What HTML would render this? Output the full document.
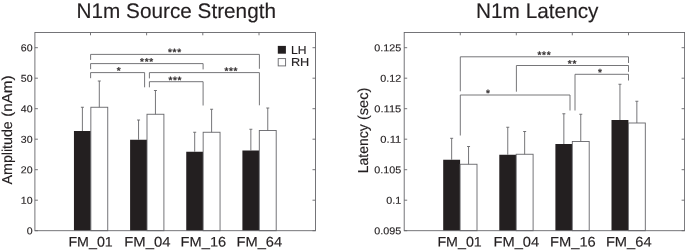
<!DOCTYPE html>
<html lang="en"><head><meta charset="utf-8"><title>N1m Source Strength and Latency</title>
<style>html,body{margin:0;padding:0;background:#fff;overflow:hidden}svg{display:block}text{font-family:"Liberation Sans",sans-serif;fill:#231f20;text-rendering:geometricPrecision;stroke:#231f20;stroke-width:0.15px}</style>
</head><body>
<svg width="685" height="252" viewBox="0 0 685 252">
<rect x="0" y="0" width="685" height="252" fill="#fff"/>
<rect x="73.95" y="131" width="16.9" height="99.7" fill="#231f20"/>
<rect x="90.85" y="107.25" width="16.9" height="123.45" fill="#fff" stroke="#66666a" stroke-width="0.9"/>
<line x1="82.4" y1="107.25" x2="82.4" y2="131" stroke="#66666a" stroke-width="0.9"/>
<line x1="80.9" y1="107.25" x2="83.9" y2="107.25" stroke="#66666a" stroke-width="0.9"/>
<line x1="99.3" y1="81" x2="99.3" y2="107.25" stroke="#66666a" stroke-width="0.9"/>
<line x1="97.8" y1="81" x2="100.8" y2="81" stroke="#66666a" stroke-width="0.9"/>
<rect x="130.1" y="139.75" width="16.9" height="90.95" fill="#231f20"/>
<rect x="147" y="114.25" width="16.9" height="116.45" fill="#fff" stroke="#66666a" stroke-width="0.9"/>
<line x1="138.55" y1="120" x2="138.55" y2="139.75" stroke="#66666a" stroke-width="0.9"/>
<line x1="137.05" y1="120" x2="140.05" y2="120" stroke="#66666a" stroke-width="0.9"/>
<line x1="155.45" y1="90.5" x2="155.45" y2="114.25" stroke="#66666a" stroke-width="0.9"/>
<line x1="153.95" y1="90.5" x2="156.95" y2="90.5" stroke="#66666a" stroke-width="0.9"/>
<rect x="186.25" y="151.75" width="16.9" height="78.95" fill="#231f20"/>
<rect x="203.15" y="132.25" width="16.9" height="98.45" fill="#fff" stroke="#66666a" stroke-width="0.9"/>
<line x1="194.7" y1="132.25" x2="194.7" y2="151.75" stroke="#66666a" stroke-width="0.9"/>
<line x1="193.2" y1="132.25" x2="196.2" y2="132.25" stroke="#66666a" stroke-width="0.9"/>
<line x1="211.6" y1="109.25" x2="211.6" y2="132.25" stroke="#66666a" stroke-width="0.9"/>
<line x1="210.1" y1="109.25" x2="213.1" y2="109.25" stroke="#66666a" stroke-width="0.9"/>
<rect x="242.4" y="150.5" width="16.9" height="80.2" fill="#231f20"/>
<rect x="259.3" y="130.5" width="16.9" height="100.2" fill="#fff" stroke="#66666a" stroke-width="0.9"/>
<line x1="250.85" y1="129.25" x2="250.85" y2="150.5" stroke="#66666a" stroke-width="0.9"/>
<line x1="249.35" y1="129.25" x2="252.35" y2="129.25" stroke="#66666a" stroke-width="0.9"/>
<line x1="267.75" y1="108" x2="267.75" y2="130.5" stroke="#66666a" stroke-width="0.9"/>
<line x1="266.25" y1="108" x2="269.25" y2="108" stroke="#66666a" stroke-width="0.9"/>
<rect x="34.9" y="32.5" width="280.6" height="198.2" fill="none" stroke="#66666a" stroke-width="0.9"/>
<line x1="34.9" y1="230.7" x2="37.9" y2="230.7" stroke="#66666a" stroke-width="0.9"/>
<line x1="312.5" y1="230.7" x2="315.5" y2="230.7" stroke="#66666a" stroke-width="0.9"/>
<line x1="34.9" y1="200.2" x2="37.9" y2="200.2" stroke="#66666a" stroke-width="0.9"/>
<line x1="312.5" y1="200.2" x2="315.5" y2="200.2" stroke="#66666a" stroke-width="0.9"/>
<line x1="34.9" y1="169.7" x2="37.9" y2="169.7" stroke="#66666a" stroke-width="0.9"/>
<line x1="312.5" y1="169.7" x2="315.5" y2="169.7" stroke="#66666a" stroke-width="0.9"/>
<line x1="34.9" y1="139.2" x2="37.9" y2="139.2" stroke="#66666a" stroke-width="0.9"/>
<line x1="312.5" y1="139.2" x2="315.5" y2="139.2" stroke="#66666a" stroke-width="0.9"/>
<line x1="34.9" y1="108.7" x2="37.9" y2="108.7" stroke="#66666a" stroke-width="0.9"/>
<line x1="312.5" y1="108.7" x2="315.5" y2="108.7" stroke="#66666a" stroke-width="0.9"/>
<line x1="34.9" y1="78.2" x2="37.9" y2="78.2" stroke="#66666a" stroke-width="0.9"/>
<line x1="312.5" y1="78.2" x2="315.5" y2="78.2" stroke="#66666a" stroke-width="0.9"/>
<line x1="34.9" y1="47.7" x2="37.9" y2="47.7" stroke="#66666a" stroke-width="0.9"/>
<line x1="312.5" y1="47.7" x2="315.5" y2="47.7" stroke="#66666a" stroke-width="0.9"/>
<line x1="90.5" y1="32.5" x2="90.5" y2="35.3" stroke="#66666a" stroke-width="0.9"/>
<line x1="146.6" y1="32.5" x2="146.6" y2="35.3" stroke="#66666a" stroke-width="0.9"/>
<line x1="202.8" y1="32.5" x2="202.8" y2="35.3" stroke="#66666a" stroke-width="0.9"/>
<line x1="259" y1="32.5" x2="259" y2="35.3" stroke="#66666a" stroke-width="0.9"/>
<text font-size="10" text-anchor="end" textLength="5.89" lengthAdjust="spacingAndGlyphs" transform="matrix(1 0.0005 0 1 32.6 234.2)" stroke="none">0</text>
<text font-size="10" text-anchor="end" textLength="11.79" lengthAdjust="spacingAndGlyphs" transform="matrix(1 0.0005 0 1 32.6 203.7)" stroke="none">10</text>
<text font-size="10" text-anchor="end" textLength="11.79" lengthAdjust="spacingAndGlyphs" transform="matrix(1 0.0005 0 1 32.6 173.2)" stroke="none">20</text>
<text font-size="10" text-anchor="end" textLength="11.79" lengthAdjust="spacingAndGlyphs" transform="matrix(1 0.0005 0 1 32.6 142.7)" stroke="none">30</text>
<text font-size="10" text-anchor="end" textLength="11.79" lengthAdjust="spacingAndGlyphs" transform="matrix(1 0.0005 0 1 32.6 112.2)" stroke="none">40</text>
<text font-size="10" text-anchor="end" textLength="11.79" lengthAdjust="spacingAndGlyphs" transform="matrix(1 0.0005 0 1 32.6 81.7)" stroke="none">50</text>
<text font-size="10" text-anchor="end" textLength="11.79" lengthAdjust="spacingAndGlyphs" transform="matrix(1 0.0005 0 1 32.6 51.2)" stroke="none">60</text>
<text font-size="13.8" textLength="44.4" lengthAdjust="spacingAndGlyphs" transform="matrix(1 0.0005 0 1 68.4 246.5)" stroke-width="0.08">FM_01</text>
<text font-size="13.8" textLength="46.2" lengthAdjust="spacingAndGlyphs" transform="matrix(1 0.0005 0 1 124.3 246.5)" stroke-width="0.08">FM_04</text>
<text font-size="13.8" textLength="45.6" lengthAdjust="spacingAndGlyphs" transform="matrix(1 0.0005 0 1 180.6 246.5)" stroke-width="0.08">FM_16</text>
<text font-size="13.8" textLength="45.7" lengthAdjust="spacingAndGlyphs" transform="matrix(1 0.0005 0 1 236.5 246.5)" stroke-width="0.08">FM_64</text>
<polyline points="90.6,59.9 90.6,54.4 259.4,54.4 259.4,68.8" fill="none" stroke="#66666a" stroke-width="0.9"/>
<polyline points="90.6,69.2 90.6,63.6 203.1,63.6 203.1,69.4" fill="none" stroke="#66666a" stroke-width="0.9"/>
<polyline points="90.6,78.2 90.6,72.6 144.6,72.6 144.6,87.3" fill="none" stroke="#66666a" stroke-width="0.9"/>
<polyline points="149.4,78.4 149.4,72.6 259.4,72.6 259.4,105.3" fill="none" stroke="#66666a" stroke-width="0.9"/>
<polyline points="149.4,87.3 149.4,81.7 203.1,81.7 203.1,105.5" fill="none" stroke="#66666a" stroke-width="0.9"/>
<text font-size="10" text-anchor="middle" transform="matrix(1 0.0005 0 1 174.9 55.6)" font-weight="bold" stroke="none" letter-spacing="0.7" fill-opacity="0.9">***</text>
<text font-size="10" text-anchor="middle" transform="matrix(1 0.0005 0 1 147 65.1)" font-weight="bold" stroke="none" letter-spacing="0.7" fill-opacity="0.9">***</text>
<text font-size="10" text-anchor="middle" transform="matrix(1 0.0005 0 1 119.1 74)" font-weight="bold" stroke="none" letter-spacing="0.7" fill-opacity="0.9">*</text>
<text font-size="10" text-anchor="middle" transform="matrix(1 0.0005 0 1 231.3 74.2)" font-weight="bold" stroke="none" letter-spacing="0.7" fill-opacity="0.9">***</text>
<text font-size="10" text-anchor="middle" transform="matrix(1 0.0005 0 1 175.3 83.4)" font-weight="bold" stroke="none" letter-spacing="0.7" fill-opacity="0.9">***</text>
<text font-size="14.4" textLength="63.1" lengthAdjust="spacingAndGlyphs" transform="matrix(0.0005 -1 1 0 12 184.4)">Amplitude</text>
<text font-size="14.4" textLength="41.4" lengthAdjust="spacingAndGlyphs" transform="matrix(0.0005 -1 1 0 12 116.8)">(nAm)</text>
<text font-size="21" textLength="199.5" lengthAdjust="spacingAndGlyphs" transform="matrix(1 0.0005 0 1 76.5 18)" stroke-width="0.22">N1m Source Strength</text>
<rect x="277.8" y="45.9" width="8.1" height="7.8" fill="#231f20"/>
<rect x="278.2" y="58.6" width="7.4" height="7.3" fill="#fff" stroke="#66666a" stroke-width="0.9"/>
<text font-size="11.6" textLength="15.5" lengthAdjust="spacingAndGlyphs" transform="matrix(1 0.0005 0 1 291 53.9)" stroke-width="0.1">LH</text>
<text font-size="11.6" textLength="18.4" lengthAdjust="spacingAndGlyphs" transform="matrix(1 0.0005 0 1 290.9 66)" stroke-width="0.1">RH</text>
<rect x="443.2" y="159.75" width="16.9" height="70.95" fill="#231f20"/>
<rect x="460.1" y="164.25" width="16.9" height="66.45" fill="#fff" stroke="#66666a" stroke-width="0.9"/>
<line x1="451.65" y1="138.3" x2="451.65" y2="159.75" stroke="#66666a" stroke-width="0.9"/>
<line x1="450.15" y1="138.3" x2="453.15" y2="138.3" stroke="#66666a" stroke-width="0.9"/>
<line x1="468.55" y1="146.5" x2="468.55" y2="164.25" stroke="#66666a" stroke-width="0.9"/>
<line x1="467.05" y1="146.5" x2="470.05" y2="146.5" stroke="#66666a" stroke-width="0.9"/>
<rect x="499.3" y="154.75" width="16.9" height="75.95" fill="#231f20"/>
<rect x="516.2" y="154.25" width="16.9" height="76.45" fill="#fff" stroke="#66666a" stroke-width="0.9"/>
<line x1="507.75" y1="127.25" x2="507.75" y2="154.75" stroke="#66666a" stroke-width="0.9"/>
<line x1="506.25" y1="127.25" x2="509.25" y2="127.25" stroke="#66666a" stroke-width="0.9"/>
<line x1="524.65" y1="131.5" x2="524.65" y2="154.25" stroke="#66666a" stroke-width="0.9"/>
<line x1="523.15" y1="131.5" x2="526.15" y2="131.5" stroke="#66666a" stroke-width="0.9"/>
<rect x="555.4" y="144" width="16.9" height="86.7" fill="#231f20"/>
<rect x="572.3" y="141.5" width="16.9" height="89.2" fill="#fff" stroke="#66666a" stroke-width="0.9"/>
<line x1="563.85" y1="113.75" x2="563.85" y2="144" stroke="#66666a" stroke-width="0.9"/>
<line x1="562.35" y1="113.75" x2="565.35" y2="113.75" stroke="#66666a" stroke-width="0.9"/>
<line x1="580.75" y1="114.25" x2="580.75" y2="141.5" stroke="#66666a" stroke-width="0.9"/>
<line x1="579.25" y1="114.25" x2="582.25" y2="114.25" stroke="#66666a" stroke-width="0.9"/>
<rect x="611.5" y="120" width="16.9" height="110.7" fill="#231f20"/>
<rect x="628.4" y="123" width="16.9" height="107.7" fill="#fff" stroke="#66666a" stroke-width="0.9"/>
<line x1="619.95" y1="84.25" x2="619.95" y2="120" stroke="#66666a" stroke-width="0.9"/>
<line x1="618.45" y1="84.25" x2="621.45" y2="84.25" stroke="#66666a" stroke-width="0.9"/>
<line x1="636.85" y1="101.25" x2="636.85" y2="123" stroke="#66666a" stroke-width="0.9"/>
<line x1="635.35" y1="101.25" x2="638.35" y2="101.25" stroke="#66666a" stroke-width="0.9"/>
<rect x="404.2" y="32.5" width="280.4" height="198.2" fill="none" stroke="#66666a" stroke-width="0.9"/>
<line x1="404.2" y1="230.7" x2="407.2" y2="230.7" stroke="#66666a" stroke-width="0.9"/>
<line x1="681.6" y1="230.7" x2="684.6" y2="230.7" stroke="#66666a" stroke-width="0.9"/>
<line x1="404.2" y1="200.2" x2="407.2" y2="200.2" stroke="#66666a" stroke-width="0.9"/>
<line x1="681.6" y1="200.2" x2="684.6" y2="200.2" stroke="#66666a" stroke-width="0.9"/>
<line x1="404.2" y1="169.7" x2="407.2" y2="169.7" stroke="#66666a" stroke-width="0.9"/>
<line x1="681.6" y1="169.7" x2="684.6" y2="169.7" stroke="#66666a" stroke-width="0.9"/>
<line x1="404.2" y1="139.2" x2="407.2" y2="139.2" stroke="#66666a" stroke-width="0.9"/>
<line x1="681.6" y1="139.2" x2="684.6" y2="139.2" stroke="#66666a" stroke-width="0.9"/>
<line x1="404.2" y1="108.7" x2="407.2" y2="108.7" stroke="#66666a" stroke-width="0.9"/>
<line x1="681.6" y1="108.7" x2="684.6" y2="108.7" stroke="#66666a" stroke-width="0.9"/>
<line x1="404.2" y1="78.2" x2="407.2" y2="78.2" stroke="#66666a" stroke-width="0.9"/>
<line x1="681.6" y1="78.2" x2="684.6" y2="78.2" stroke="#66666a" stroke-width="0.9"/>
<line x1="404.2" y1="47.7" x2="407.2" y2="47.7" stroke="#66666a" stroke-width="0.9"/>
<line x1="681.6" y1="47.7" x2="684.6" y2="47.7" stroke="#66666a" stroke-width="0.9"/>
<line x1="460.25" y1="32.5" x2="460.25" y2="35.3" stroke="#66666a" stroke-width="0.9"/>
<line x1="516.3" y1="32.5" x2="516.3" y2="35.3" stroke="#66666a" stroke-width="0.9"/>
<line x1="572.3" y1="32.5" x2="572.3" y2="35.3" stroke="#66666a" stroke-width="0.9"/>
<line x1="628.5" y1="32.5" x2="628.5" y2="35.3" stroke="#66666a" stroke-width="0.9"/>
<text font-size="10" text-anchor="end" textLength="27.02" lengthAdjust="spacingAndGlyphs" transform="matrix(1 0.0005 0 1 401.3 234.2)" stroke="none">0.095</text>
<text font-size="10" text-anchor="end" textLength="15.01" lengthAdjust="spacingAndGlyphs" transform="matrix(1 0.0005 0 1 401.3 203.7)" stroke="none">0.1</text>
<text font-size="10" text-anchor="end" textLength="27.02" lengthAdjust="spacingAndGlyphs" transform="matrix(1 0.0005 0 1 401.3 173.2)" stroke="none">0.105</text>
<text font-size="10" text-anchor="end" textLength="21.02" lengthAdjust="spacingAndGlyphs" transform="matrix(1 0.0005 0 1 401.3 142.7)" stroke="none">0.11</text>
<text font-size="10" text-anchor="end" textLength="27.02" lengthAdjust="spacingAndGlyphs" transform="matrix(1 0.0005 0 1 401.3 112.2)" stroke="none">0.115</text>
<text font-size="10" text-anchor="end" textLength="21.02" lengthAdjust="spacingAndGlyphs" transform="matrix(1 0.0005 0 1 401.3 81.7)" stroke="none">0.12</text>
<text font-size="10" text-anchor="end" textLength="27.02" lengthAdjust="spacingAndGlyphs" transform="matrix(1 0.0005 0 1 401.3 51.2)" stroke="none">0.125</text>
<text font-size="13.8" textLength="44.4" lengthAdjust="spacingAndGlyphs" transform="matrix(1 0.0005 0 1 437.4 246.5)" stroke-width="0.08">FM_01</text>
<text font-size="13.8" textLength="45.7" lengthAdjust="spacingAndGlyphs" transform="matrix(1 0.0005 0 1 493.5 246.5)" stroke-width="0.08">FM_04</text>
<text font-size="13.8" textLength="45.8" lengthAdjust="spacingAndGlyphs" transform="matrix(1 0.0005 0 1 550 246.5)" stroke-width="0.08">FM_16</text>
<text font-size="13.8" textLength="45.7" lengthAdjust="spacingAndGlyphs" transform="matrix(1 0.0005 0 1 605.9 246.5)" stroke-width="0.08">FM_64</text>
<polyline points="460.3,91.3 460.3,56.8 628.5,56.8 628.5,63" fill="none" stroke="#66666a" stroke-width="0.9"/>
<polyline points="516.4,91.7 516.4,65.5 628.5,65.5 628.5,71.8" fill="none" stroke="#66666a" stroke-width="0.9"/>
<polyline points="575,110.5 575,74.3 628.5,74.3 628.5,80.5" fill="none" stroke="#66666a" stroke-width="0.9"/>
<polyline points="460.3,135.5 460.3,95 570,95 570,110.5" fill="none" stroke="#66666a" stroke-width="0.9"/>
<text font-size="10" text-anchor="middle" transform="matrix(1 0.0005 0 1 544.4 58.2)" font-weight="bold" stroke="none" letter-spacing="0.7" fill-opacity="0.9">***</text>
<text font-size="10" text-anchor="middle" transform="matrix(1 0.0005 0 1 572.4 66.9)" font-weight="bold" stroke="none" letter-spacing="0.7" fill-opacity="0.9">**</text>
<text font-size="10" text-anchor="middle" transform="matrix(1 0.0005 0 1 600.3 75.7)" font-weight="bold" stroke="none" letter-spacing="0.7" fill-opacity="0.9">*</text>
<text font-size="10" text-anchor="middle" transform="matrix(1 0.0005 0 1 488.3 96.5)" font-weight="bold" stroke="none" letter-spacing="0.7" fill-opacity="0.9">*</text>
<text font-size="14.4" textLength="48.8" lengthAdjust="spacingAndGlyphs" transform="matrix(0.0005 -1 1 0 368 173.2)">Latency</text>
<text font-size="14.4" textLength="32.4" lengthAdjust="spacingAndGlyphs" transform="matrix(0.0005 -1 1 0 368 120.1)">(sec)</text>
<text font-size="21" textLength="122.5" lengthAdjust="spacingAndGlyphs" transform="matrix(1 0.0005 0 1 476 18)" stroke-width="0.22">N1m Latency</text>
</svg></body></html>
